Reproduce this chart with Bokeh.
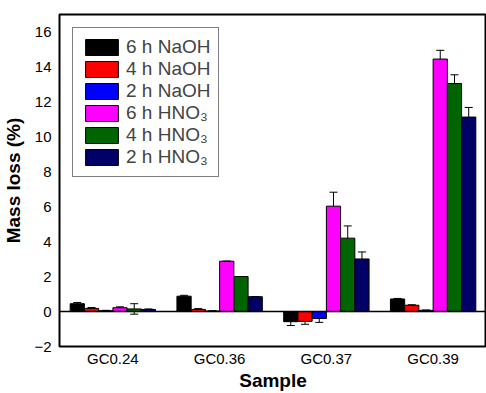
import math
from bokeh.plotting import figure
from bokeh.models import ColumnDataSource, Whisker, Span, Legend, LegendItem, FixedTicker, Range1d, TeeHead
from bokeh.embed import file_html
from bokeh.resources import INLINE

samples = ["GC0.24", "GC0.36", "GC0.37", "GC0.39"]
series = ["6 h NaOH", "4 h NaOH", "2 h NaOH", "6 h HNO\u2083", "4 h HNO\u2083", "2 h HNO\u2083"]
colors = ["#000000", "#ff0000", "#0000ff", "#ff00ff", "#006400", "#000066"]

naoh_6h = [0.45, 0.88, -0.58, 0.72]
naoh_4h = [0.18, 0.12, -0.56, 0.36]
naoh_2h = [0.05, 0.03, -0.40, 0.07]
hno3_6h = [0.22, 2.88, 6.03, 14.45]
hno3_4h = [0.15, 2.00, 4.20, 13.05]
hno3_2h = [0.12, 0.85, 3.01, 11.13]

err_naoh_6h = [0.07, 0.05, 0.22, 0.03]
err_naoh_4h = [0.05, 0.05, 0.17, 0.03]
err_naoh_2h = [0.02, 0.02, 0.22, 0.02]
err_hno3_6h = [0.05, 0.0, 0.80, 0.50]
err_hno3_4h = [0.30, 0.0, 0.70, 0.50]
err_hno3_2h = [0.03, 0.0, 0.40, 0.55]

values = [naoh_6h, naoh_4h, naoh_2h, hno3_6h, hno3_4h, hno3_2h]
errors = [err_naoh_6h, err_naoh_4h, err_naoh_2h, err_hno3_6h, err_hno3_4h, err_hno3_2h]

FONT = "Liberation Sans"

p = figure(width=486, height=393, output_backend="svg", toolbar_location=None,
           x_range=Range1d(-0.5, 3.5), y_range=Range1d(-2, 17),
           min_border_left=59, min_border_right=0, min_border_top=14, min_border_bottom=42)

bw = 0.8 / 6
items = []
for k, (name, col, vals, errs) in enumerate(zip(series, colors, values, errors)):
    off = -0.4 + bw * (k + 0.5)
    xs = [i + off for i in range(len(samples))]
    src = ColumnDataSource(dict(x=xs, top=vals,
                                upper=[v + e for v, e in zip(vals, errs)],
                                lower=[v - e for v, e in zip(vals, errs)]))
    r = p.vbar(x="x", top="top", bottom=0, width=bw, source=src,
               fill_color=col, line_color="black", line_width=1)
    items.append(LegendItem(label=name, renderers=[r]))
    w = Whisker(base="x", upper="upper", lower="lower", source=src,
                line_color="black", line_width=1,
                upper_head=TeeHead(size=8, line_color="black", line_width=1),
                lower_head=TeeHead(size=8, line_color="black", line_width=1))
    p.add_layout(w)

p.add_layout(Span(location=0, dimension="width", line_color="black", line_width=1.5))

legend = Legend(items=items, location="top_left", margin=13, padding=8, spacing=0,
                glyph_width=41, glyph_height=20, label_height=20, label_standoff=4,
                label_text_font=FONT, label_text_font_size="19px",
                border_line_color="black", border_line_width=1,
                background_fill_alpha=1)
p.add_layout(legend)

p.grid.visible = False
p.outline_line_color = "black"
p.outline_line_width = 2

p.xaxis.ticker = FixedTicker(ticks=list(range(len(samples))))
p.xaxis.major_label_overrides = {i: s for i, s in enumerate(samples)}
p.yaxis.ticker = FixedTicker(ticks=[-2, 0, 2, 4, 6, 8, 10, 12, 14, 16])

for ax in (p.xaxis[0], p.yaxis[0]):
    ax.axis_line_color = None
    ax.major_tick_line_color = None
    ax.minor_tick_line_color = None
    ax.major_tick_out = 0
    ax.major_tick_in = 0
    ax.minor_tick_out = 0
    ax.minor_tick_in = 0
    ax.major_label_text_font = FONT
    ax.major_label_text_font_size = "15px"
    ax.major_label_text_color = "black"
    ax.axis_label_text_font = FONT
    ax.axis_label_text_font_style = "bold"
    ax.axis_label_text_font_size = "19px"
    ax.axis_label_text_color = "black"
    ax.axis_label_text_line_height = 0.8

p.xaxis.axis_label = "Sample"
p.yaxis.axis_label = "Mass loss (%)"
p.xaxis.major_label_standoff = 3
p.xaxis.axis_label_standoff = 0
p.yaxis.major_label_standoff = 8
p.yaxis.axis_label_standoff = 7

open("out.html", "w").write(file_html(p, INLINE))
